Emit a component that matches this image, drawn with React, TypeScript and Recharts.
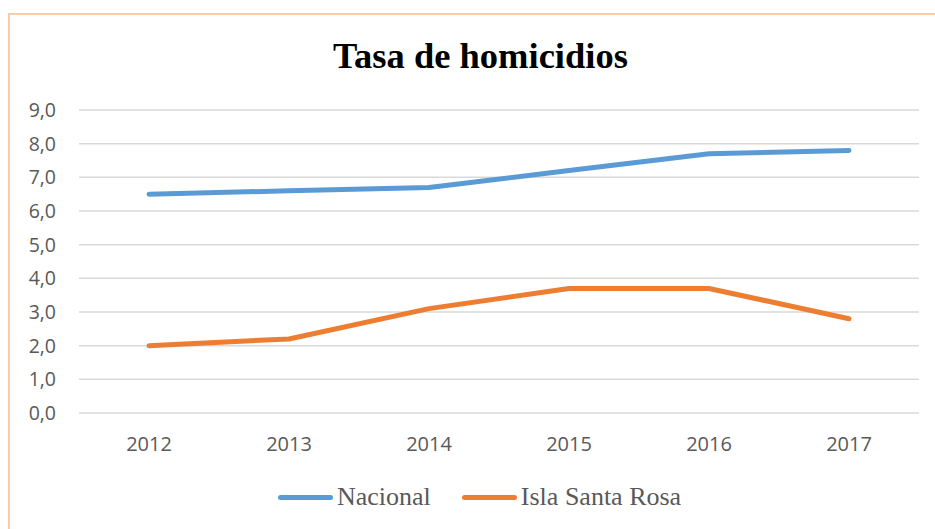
import React from "react";
import { LineChart, Line, XAxis, YAxis, CartesianGrid } from "recharts";

const years = ["2012", "2013", "2014", "2015", "2016", "2017"];
const nacional = [6.5, 6.6, 6.7, 7.2, 7.7, 7.8];
const islaSantaRosa = [2.0, 2.2, 3.1, 3.7, 3.7, 2.8];
const yTicks = [0, 1, 2, 3, 4, 5, 6, 7, 8, 9];
const title = "Tasa de homicidios";

const series = [
  { key: "nacional", name: "Nacional", color: "#5B9BD5" },
  { key: "isla", name: "Isla Santa Rosa", color: "#ED7D31" },
];

const data = years.map((y, i) => ({
  year: y,
  nacional: nacional[i],
  isla: islaSantaRosa[i],
}));

const fmt = (v: number) => v.toFixed(1).replace(".", ",");

export default function App() {
  return (
    <div
      style={{
        position: "absolute",
        left: 0,
        top: 0,
        width: 935,
        height: 529,
        overflow: "hidden",
        background: "#ffffff",
      }}
    >
      <div
        style={{
          position: "absolute",
          left: 8,
          top: 13,
          width: 960,
          height: 560,
          border: "2px solid #F8CBAD",
          boxSizing: "border-box",
        }}
      />
      <div
        style={{
          position: "absolute",
          left: 0,
          top: 36,
          width: 961,
          textAlign: "center",
          fontFamily: "'Liberation Serif', 'Times New Roman', serif",
          fontWeight: "bold",
          fontSize: 36.5,
          lineHeight: "40px",
          color: "#000000",
        }}
      >
        {title}
      </div>
      <div style={{ position: "absolute", left: 0, top: 0 }}>
        <LineChart
          width={935}
          height={529}
          data={data}
          margin={{ top: 110, right: 16, bottom: 76, left: 0 }}
        >
          <CartesianGrid
            vertical={false}
            stroke="#D9D9D9"
            strokeWidth={1.5}
          />
          <XAxis
            dataKey="year"
            axisLine={false}
            tickLine={false}
            tickSize={0}
            tickMargin={24}
            height={40}
            padding={{ left: 70, right: 70 }}
            tick={{
              fill: "#595959",
              fontSize: 20,
              fontFamily: "'Open Sans', sans-serif",
            }}
          />
          <YAxis
            domain={[0, 9]}
            ticks={yTicks}
            width={79}
            axisLine={false}
            tickLine={false}
            tickSize={0}
            tickMargin={23}
            tickFormatter={fmt}
            tick={{
              fill: "#595959",
              fontSize: 19.5,
              fontFamily: "'Open Sans', sans-serif",
            }}
          />
          {series.map((s) => (
            <Line
              key={s.key}
              type="linear"
              dataKey={s.key}
              name={s.name}
              stroke={s.color}
              strokeWidth={5}
              strokeLinecap="round"
              strokeLinejoin="round"
              dot={false}
              activeDot={false}
              isAnimationActive={false}
            />
          ))}
        </LineChart>
      </div>
      <div
        style={{
          position: "absolute",
          left: 278,
          top: 480,
          display: "flex",
          alignItems: "center",
          fontFamily: "'Liberation Serif', 'Times New Roman', serif",
          fontSize: 26,
          color: "#595959",
          whiteSpace: "nowrap",
        }}
      >
        {series.map((s, i) => (
          <div
            key={s.key}
            style={{
              display: "flex",
              alignItems: "center",
              marginLeft: i === 0 ? 0 : 31,
            }}
          >
            <div
              style={{
                width: 55,
                height: 5,
                borderRadius: 3,
                background: s.color,
                marginRight: 4,
              }}
            />
            <span style={{ lineHeight: "34px" }}>{s.name}</span>
          </div>
        ))}
      </div>
    </div>
  );
}
